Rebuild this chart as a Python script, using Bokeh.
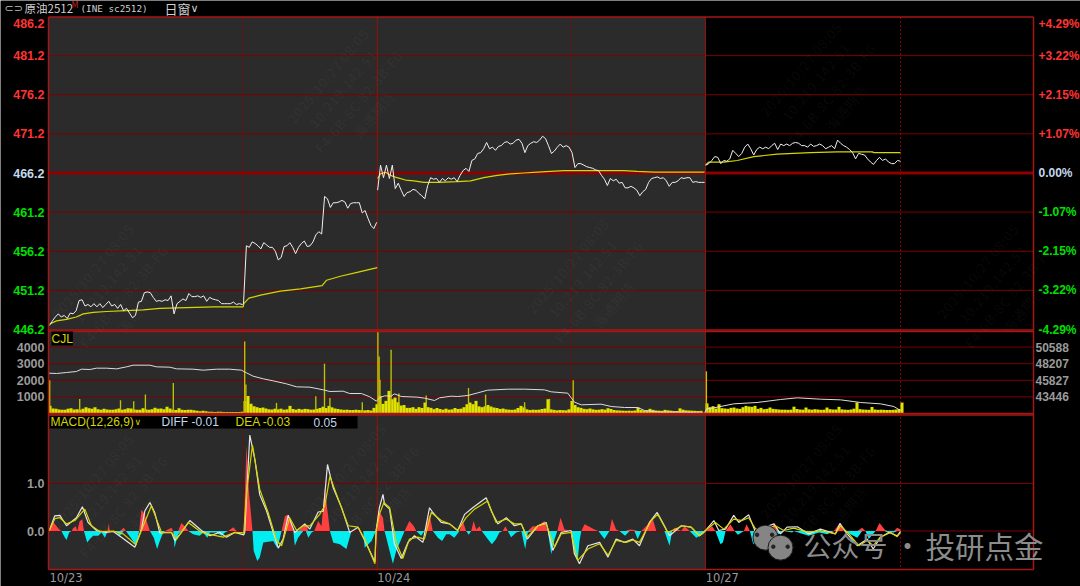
from bokeh.plotting import figure
from bokeh.models import Range1d, Label, BoxAnnotation
from bokeh.embed import file_html
from bokeh.resources import INLINE
import numpy as np

# ---------- price (one value per sample) ----------
price_a = [446.7,447.3,447.8,448.2,447.8,448,447.6,448.3,448.2,448.6,449.9,450,449.2,449.4,449.1,449.5,449.1,449.5,449,449.4,449.8,449.2,449.4,448.9,449.4,448.6,448.9,448.3,447.7,448,449.7,449.8,450.9,451,450.9,450.3,449.8,449.9,449.8,450,449.9,450.5,448.2,449.5,449.8,450.1,449.9,450.8,450.4,450.4,450.5,450.3,450.5,449.8,450.3,450.1,450,449.9,449.5,449.5,449.5,449.5,449.7,449.4,449.5,449.4]
price_b = [449.5,456.9,456.7,457.4,457.2,456.9,456.5,457.3,457,456.7,456.7,456.2,455.1,455.4,456.8,456.9,457.3,456.7,455.9,456.7,457.2,457.5,456.8,456.9,457.4,458.3,458.7,458.4,463.2,462.9,461.8,462.4,462.4,462.5,462.7,462.5,461.7,462.3,462.4,462.4,462.4,461.1,461.4,460.4,459.5,459.1,459.9]
price_c = [464,467.2,465.6,467.2,465.5,467.2,464.2,464.9,464,463.2,463.7,463.8,464.1,464,463.6,463.3,462.9,464.6,465.6,465.4,465.5,465,465.5,465.2,465.6,465.4,465.6,465.1,465.9,466.5,466.8,466.4,467.8,468,468.7,468.8,469.3,470.1,469.3,469.5,469.1,469.6,469.7,470.1,470.2,469.9,470,470.4,470.5,470,468.8,469.7,470,470.2,470.1,470.4,470.9,470.6,469.7,468.7,469,469.5,469.9,469.5,469.7,469.5,468.8,466.9,467.4,467.4,467.2,467,466.9,466.8,466.6,466.5,465.9,465.4,464.6,465.5,465.2,465.4,464.9,465,464.3,464.3,464.5,464.3,464,463.3,463.8,464.1,465,465.5,465.6,465.7,465.5,465.6,465.2,464.5,465,465,465.2,465.6,465.5,465.6,465.6,465,465.1,465,465,465]
price_d = [467.2,467.4,467.8,468.3,468.2,467.4,467.8,467.7,468,469.1,468.7,468.3,468.7,469.5,469.9,469.3,468.5,469.2,469.5,469.3,469.5,469.3,469.7,470,469.2,469.9,469.7,469.9,469.7,470,470.1,470,469.7,469.7,469.5,469.9,469.6,469.7,469.9,469.7,469.3,469.5,469.7,469.3,470.4,470,469.7,469.5,469.2,468.8,468,468.7,468.6,468.5,468,467.6,467.3,467.8,468.2,467.8,468,467.6,467.4,467.4,467.8,467.7]

# ---------- average price ----------
avg_a_t = [0.4,2.7,6,9.3,11.6,14.9,19.3,26,31.6,37.1,46,54.9,64.9,65.1,66.8,70.7,77.3,84,91.2,92.7,97.3,102.9,109.6]
avg_a_v = [446.9,447.3,447.5,447.8,448.2,448.4,448.5,448.6,448.7,448.9,449,449.1,449.1,449.5,450.2,450.6,451.1,451.4,451.8,452.5,453,453.5,454.1]
avg_c_t = [109.7,110.7,112.3,114,116.2,119,121.8,125.1,129.6,136.2,140.7,145.1,149.6,154,158.4,162.9,167.3,171.8,182.9,191.8,196.2,201.8,218.7]
avg_c_v = [465.5,466.1,466.3,465.9,465.6,465.3,465.2,465,465,465.1,465.2,465.6,465.9,466.1,466.2,466.3,466.4,466.5,466.5,466.5,466.4,466.3,466.3]
avg_d_t = [219,220.1,225.1,229.6,235.1,242.9,248.4,254,262.9,274.6,275.1,284]
avg_d_v = [467.2,467.6,467.6,467.8,468.3,468.6,468.7,468.8,468.9,468.9,468.8,468.8]

# ---------- volume ----------
vol_1 = [460,300,280,240,220,230,280,320,240,260,230,280,380,320,280,380,260,230,280,240,220,230,260,300,230,260,320,300,240,220,230,310,240,230,250,340,280,300,260,410,300,230,210,310,230,210,230,230,200,170,140,160,130,100,110,90,110,100,90,90,90,90,90,90,100,
         760,1060,580,440,380,330,360,300,250,240,290,250,290,230,250,460,270,230,280,240,280,260,230,240,280,330,410,330,460,370,300,270,240,220,230,210,210,230,210,200,190,210,180,340,560]
vol_2 = [1060,580,760,1360,860,960,680,480,510,340,340,380,280,380,330,660,380,340,260,330,270,230,290,230,250,330,270,290,380,560,660,560,760,430,380,430,510,420,360,330,270,300,250,230,220,240,330,460,370,250,210,230,220,230,270,300,860,250,220,190,210,200,190,250,760,510,380,340,280,260,300,250,220,230,260,230,320,270,210,190,180,170,160,170,160,180,360,210,180,190,280,220,180,170,160,220,190,170,150,150,310,230,190,180,170,160,150,160]
vol_3 = [610,380,440,300,560,320,300,280,340,360,300,280,380,460,420,400,460,280,340,260,280,360,280,260,240,230,230,220,230,410,270,240,230,360,250,230,260,240,220,230,360,260,240,240,400,250,230,220,240,290,660,260,240,230,220,390,240,220,230,220,210,210,220,240,270,660]
spike_t = [0.4,10.4,24,28.4,32.3,41.6,65.4,65.8,76,89.1,92,93.8,104.6,109.8,110.2,110.5,114.2,116.8,125.9,140,145.7,158.7,167,174.9,219.3]
spike_v = [2000,880,800,740,1140,1840,4340,1740,640,1040,3000,940,680,4950,3440,2040,3840,1200,1080,1540,1140,680,880,2000,2540]

# ---------- open interest ----------
oi_t = [0.2,2.7,6,9.3,11,13.8,16,19.3,22.7,26,28.2,33.8,36,40.4,42.7,48.2,51.6,56,60.4,64.3,66,68.2,71.6,74.9,79.3,82.7,87.1,91.6,93.8,98.2,100.4,104.3,107.1,109.3,110.4,112.1,114.2,115.3,117.6,123.1,125.3,128.7,130.3,134.2,136.4,139.8,143.1,146.4,153.1,158.7,165.3,167.6,173.1,175.3,177.6,184.2,187.6,192,196.4,198.7,203.1,212,218.7,219.3,221.8,228.4,236.2,244,249.6,257.3,264,270.7,277.3,281.8,284]
oi_v = [46849,46801,46944,47088,47422,47374,47566,47566,47470,47757,47996,47996,47757,47709,47470,47422,47279,47422,47422,47279,46896,46418,46036,45749,45319,44889,44841,44459,44220,44267,43933,43933,43455,42833,43359,43598,43550,43885,43503,43407,43264,42929,43311,43550,43503,43646,44028,44411,44554,44554,44459,44172,43981,42690,42308,42403,42069,41925,41925,41495,41256,41256,41100,41734,41877,42451,42642,43072,43311,43120,43025,42642,42451,42068,41495]

# ---------- MACD ----------
diff_t = [0.2,2.1,3.8,6,9.3,11.3,13.2,16,19.3,21.6,24.3,28.8,31,32.1,33.8,35.4,37.1,41,42.1,44.3,47.1,51,53.8,57.1,59.3,62.1,65.1,65.4,67.1,68.8,70.4,72.7,74.9,76.6,78.2,79.9,82.1,85.4,87.1,89.9,91.6,93,94.9,97.7,100.4,103.2,105.4,108.8,
          109.2,110.3,111.5,112,113.7,115.3,117.6,119.8,122,124.8,127,128.1,130.9,133.7,136.4,138.7,141.4,145.9,147.6,149.8,152.6,155.3,157.6,159.6,163.1,165.9,168.1,170.9,174.2,175.3,177,179.8,183.7,186.5,189.2,192,194.8,197,200.3,202.9,205.3,207,210.9,214.2,217,
          219,221.8,223.4,225.7,228.4,230.1,233.4,235.7,237.3,241.8,244,246.2,249.6,253.4,257.3,262.3,263.8,266.2,269.6,272.9,274.9,277.3,280.1,282.9,284]
diff_v = [0,.32,.33,.11,.28,.51,.18,.01,-.03,-.01,-.13,-.34,.04,.42,.6,.39,-.04,-.03,-.2,-.03,.22,.01,-.1,-.03,-.13,-.03,-.08,-.03,2.02,1.5,.77,.42,-.03,-.36,-.17,.33,-.03,.15,.04,.4,.42,1.4,.91,.49,-.03,.08,-.2,-.65,
          .01,.49,.77,.56,.46,-.27,-.58,-.24,-.1,-.24,.49,.39,.18,.15,.01,.35,.49,.7,.42,.15,.28,.11,.15,-.17,.11,.18,-.41,-.03,.01,-.48,-.69,-.31,-.24,-.55,-.17,-.24,-.17,-.31,.18,.39,.11,-.1,.11,.08,-.1,
          .01,.22,.01,.04,.33,.18,.34,-.03,.04,.15,-.06,.08,.09,-.06,.04,-.06,.16,-.06,-.31,-.17,-.38,-.13,-.03,-.1,-.01]
dea_t = [0.2,2.1,3.8,6,8.8,12.1,14.3,17.1,21.6,24.9,29.1,31.6,34.3,36,37.7,41,42.7,46.6,51,53.8,58.2,62.1,65.1,66,68,70.4,73.2,76,77.7,80.4,82.7,84.9,87.1,90.4,92.1,93.8,96.6,99.9,103.2,105.4,108.8,
         109.2,110.3,111.8,113.7,115.9,118.1,120.3,123.1,125.3,127.6,130.9,133.7,136.4,139.2,142,146.4,149.2,152.6,155.3,157.6,159.6,163.1,165.9,168.7,170.9,174.2,176.4,179.8,183.7,186.5,189.2,192.6,194.8,197,200.9,203.1,206.4,211.4,214.2,217,
         219,222.3,225.1,228.4,231.2,233.4,235.7,238.4,242.3,245.1,248.4,253.4,257.3,262.3,264,266.8,270.1,272.9,274.9,277.3,280.7,282.9,284]
dea_v = [0,.26,.28,.15,.22,.46,.11,-.01,0,-.06,-.29,.11,.53,.25,-.03,-.03,-.17,.18,-.03,-.07,-.13,-.03,-.04,.81,1.81,.88,.39,-.2,-.31,.28,.01,.11,.11,.35,.53,1.15,.67,.11,.08,-.17,-.69,
         .01,.35,.6,.49,-.24,-.58,-.17,-.13,-.17,.39,.22,.15,.01,.28,.46,.63,.18,.25,.15,.15,-.13,.11,.15,-.34,-.06,-.03,-.62,-.38,-.27,-.51,-.2,-.24,-.19,-.24,.22,.35,-.03,.11,.08,-.1,
         .01,.18,.04,.25,.22,.28,.04,.04,.11,.01,.06,-.03,.01,-.06,.11,-.06,-.31,-.2,-.31,-.13,-.03,-.12,-.03]
hist_t = [0.2,1.6,3.6,4.3,5.4,6,6.9,7.7,8.2,9.1,9.6,10.4,11.3,11.8,12.9,13.8,14.9,16.6,17.7,18.8,19.7,20.1,20.4,22.1,23.8,25.1,25.8,27.7,29.3,30.2,31,32.1,32.7,33.8,35.1,36.2,37.1,38,38.8,41,41.6,42,43.2,44.3,45.4,46.6,48.2,50.4,51.6,52.9,53.8,56,57.7,58.8,59.9,61.6,62.7,65.1,65.6,66,66.8,67.4,68,68.4,69.6,70.4,71.6,74.9,76.2,76.9,77.7,78.8,79.9,81,81.6,82.1,83.2,84.9,85.8,86.6,87.7,88.6,89.9,91,92.1,93.8,94.9,97.1,99.3,101,104.9,105.4,107.7,109.1,
          109.2,110,111.5,112,112.6,113.7,114.8,115.9,117.6,118.7,120.3,121.8,122.6,124.2,125.3,127,128.1,129.8,131.2,132.6,133.7,135.3,137,138.1,139.2,140.1,140.9,141.7,142.6,143.7,144.4,146.4,147.8,149.2,150.3,151.4,152.3,153.1,154.2,155.9,157.6,158.9,159.8,161.4,163.1,165.3,166.4,167.6,168.7,169.6,170.7,172,174.2,175.3,176.4,177,177.6,178.7,182,183.3,185.3,187,187.8,189.2,190.3,192.2,193.7,195.3,196.4,197.6,199.2,201.4,202.6,205.3,207,207.9,208.7,210.9,212,213.7,215.9,218.1,219.2,
          221.2,222.3,224,224.8,225.7,227.3,228.7,229.8,231.8,232.7,233.8,234.9,235.8,236.8,240.7,242,243.4,245.1,247.9,248.4,251.2,253.4,256.8,259.6,261.8,263.8,265.1,267.3,269.6,271.2,272.3,273.4,275.7,277,278.7,279.6,281.8,282.9,284]
hist_v = [0,.19,.03,0,-.13,-.19,-.03,0,.06,.1,0,.21,.24,0,-.24,-.17,-.1,-.1,-.03,-.14,0,.17,0,0,-.1,.07,0,-.17,-.31,0,.45,.35,.21,0,-.14,-.38,-.21,-.07,0,.07,0,-.35,-.07,.17,.1,0,-.07,-.1,-.03,-.14,-.03,-.03,-.1,-.03,0,.08,0,0,1.04,1.81,.83,.42,0,-.42,-.63,-.56,-.24,-.21,-.35,-.21,0,.31,.35,.17,0,-.31,-.14,.1,.14,-.14,-.03,0,.21,.1,.9,0,-.24,-.28,-.38,0,0,-.35,-.21,0,
          0,.45,.28,0,-.14,-.42,-.69,-.42,-.17,0,.21,.1,0,-.1,0,.35,0,-.14,-.21,-.07,-.07,-.14,0,.21,0,-.08,0,.21,.03,.1,0,-.17,-.28,-.17,-.03,0,.1,0,-.13,-.03,0,-.38,-.03,.1,.1,.21,0,-.49,-.17,0,.28,.03,0,-.45,-.63,-.21,0,.14,.03,0,-.17,0,.26,.03,0,-.1,.03,.02,-.17,0,.1,.26,0,0,-.31,0,.07,0,.1,0,-.14,-.07,0,
          .1,0,-.28,-.24,0,.14,0,-.08,0,.14,0,-.28,-.21,0,0,.17,-.07,0,-.03,0,-.06,-.1,-.03,-.07,0,.17,0,-.07,-.14,.07,0,-.17,0,.17,.03,-.03,-.03,.07,.03]

# ---------- ticks and labels ----------
price_ticks = [486.2,481.2,476.2,471.2,466.2,461.2,456.2,451.2,446.2]
pct_labels = ["+4.29%","+3.22%","+2.15%","+1.07%","0.00%","-1.07%","-2.15%","-3.22%","-4.29%"]
vol_ticks = [1000,2000,3000,4000]
oi_ticks = [43446,45827,48207,50588]
macd_ticks = [0.0,1.0]
date_labels = ["10/23","10/24","10/27"]
session_starts = [0.3,109.6,219.1]
session_lines = [109.6,219]
midday_lines = [65,174,284]
watermark_lines = ["2025/10/27 08:05","10.219.142.51","F4-6B-8C-82-3B-F6","海通期货"]

GREY = "#2b2b2b"; GRID = "#7d0000"; BORDER = "#a81616"
RED = "#ff3333"; GREEN = "#00e000"; PALE = "#c4d8ee"; AXIS = "#9a9a9a"; YEL = "#d6d600"
X0, X1 = 0, 328.33

# the one frame fills the page; each panel has its own linear scale on it
def to_price(py): return 446.2 + (329 - py) / 7.825
def to_vol(py): return (413 - py) / 16.6 * 1000
def to_oi(py): return 41065 + to_vol(py) * 2.381
def to_macd(py): return (530.5 - py) / 47.5
def to_x(px): return (px - 48) / 3

p = figure(width=1080, height=586, output_backend="svg", toolbar_location=None,
           x_range=Range1d(to_x(0), to_x(1080)), y_range=Range1d(to_price(586), to_price(0)),
           x_axis_type=None, y_axis_type=None, min_border=0, outline_line_color=None,
           background_fill_color="#000000", border_fill_color="#000000")
p.extra_y_ranges = {"vol": Range1d(to_vol(586), to_vol(0)), "oi": Range1d(to_oi(586), to_oi(0)),
                    "macd": Range1d(to_macd(586), to_macd(0))}
top_p, bot_p = to_price(16.5), to_price(569)

p.add_layout(BoxAnnotation(left=X0, right=session_lines[1], top=top_p, bottom=bot_p,
                           fill_color=GREY, fill_alpha=1, line_alpha=0, level="image"))

def txt(x, y, s, color, size="12px", font="Liberation Sans", style="normal", align="left", rng="default", **kw):
    p.add_layout(Label(x=x, y=y, y_range_name=rng, text=s, text_color=color, text_font=font, text_font_size=size,
                       text_font_style=style, text_align=align, text_baseline="middle", **kw))

def hlines(ys, rng="default", w=1, c=GRID):
    p.segment(x0=[X0] * len(ys), x1=[X1] * len(ys), y0=ys, y1=ys, y_range_name=rng, line_color=c, line_width=w)

# watermark
for cx, cy in [(350, 95), (823, 88), (590, 285), (115, 290), (1000, 290), (367, 490), (823, 490), (115, 500)]:
    for k, s in enumerate(watermark_lines):
        off = (k - 1.5) * 20
        p.add_layout(Label(x=to_x(cx + off * 0.766), y=to_price(cy + off * 0.643), text=s, text_color="#ffffff",
                           text_alpha=0.03, text_font="Noto Sans CJK SC", text_font_size="14px", text_font_style="bold",
                           angle=50, angle_units="deg", text_align="center", text_baseline="middle"))

# grid
hlines([y for y in price_ticks[1:-1] if y != 466.2])
hlines([466.2], w=3, c="#8f0000")
hlines(vol_ticks, "vol")
hlines(macd_ticks, "macd")
p.segment(x0=session_lines, x1=session_lines, y0=[top_p] * 2, y1=[bot_p] * 2, line_color="#961010", line_width=1)
p.segment(x0=midday_lines, x1=midday_lines, y0=[top_p] * 3, y1=[bot_p] * 3, line_color="#8a0000", line_width=1, line_dash="2 2")

# price panel
p.line(avg_a_t, avg_a_v, line_color=YEL, line_width=1.2)
p.line(avg_c_t, avg_c_v, line_color=YEL, line_width=1.2)
p.line(avg_d_t, avg_d_v, line_color=YEL, line_width=1.2)
xa = np.linspace(0.3, 64.6, len(price_a))
xb = np.linspace(65, 109.4, len(price_b))
xc = np.linspace(109.7, 218.7, len(price_c))
xd = np.linspace(219.1, 284, len(price_d))
p.line(np.concatenate([xa, xb]), price_a + price_b, line_color="#f0f0f0", line_width=1)
p.line(xc, price_c, line_color="#f0f0f0", line_width=1)
p.line(xd, price_d, line_color="#f0f0f0", line_width=1)

# volume panel
p.vbar(x=np.arange(len(vol_1)) + 0.5, top=vol_1, width=1.02, y_range_name="vol", color="#e2e200", line_width=0)
p.vbar(x=np.arange(len(vol_2)) + 110.5, top=vol_2, width=1.02, y_range_name="vol", color="#e2e200", line_width=0)
p.vbar(x=np.arange(len(vol_3)) + 219.5, top=vol_3, width=1.02, y_range_name="vol", color="#e2e200", line_width=0)
p.vbar(x=spike_t, top=spike_v, width=0.45, y_range_name="vol", color="#c2c200", line_width=0)
p.line(oi_t, oi_v, y_range_name="oi", line_color="#dcdcdc", line_width=1)

# MACD panel
hv = np.array(hist_v)
p.varea(x=hist_t, y1=np.zeros(len(hv)), y2=np.clip(hv, 0, None), y_range_name="macd", fill_color="#ff4040")
p.varea(x=hist_t, y1=np.zeros(len(hv)), y2=np.clip(hv, None, 0), y_range_name="macd", fill_color="#00eef0")
p.line(diff_t, diff_v, y_range_name="macd", line_color="#e6e6e6", line_width=1.2)
p.line(dea_t, dea_v, y_range_name="macd", line_color=YEL, line_width=1.2)

# panel borders
hlines([to_price(16.5), to_price(329.5), to_price(331), to_price(413), to_price(414.5), to_price(569)], w=1.5, c=BORDER)
p.segment(x0=[X0, X1], x1=[X0, X1], y0=[top_p] * 2, y1=[bot_p] * 2, line_color=BORDER, line_width=1.5)

# tick labels
for y, pct in zip(price_ticks, pct_labels):
    c = RED if y > 466.2 else (PALE if y == 466.2 else GREEN)
    ly = to_price(23) if y == price_ticks[0] else y
    txt(to_x(44), ly, f"{y:.1f}", c, "12.5px", style="bold", align="right")
    txt(to_x(1038), ly, pct, c, "12px", style="bold")
for i, y in enumerate(vol_ticks):
    txt(to_x(44), y, str(y), AXIS, "12.5px", style="bold", align="right", rng="vol")
    txt(to_x(1035), oi_ticks[i], str(oi_ticks[i]), AXIS, "12px", style="bold", rng="oi")
for y in macd_ticks:
    txt(to_x(44), y, f"{y:.1f}", AXIS, "12.5px", style="bold", align="right", rng="macd")
for x, s in zip(session_starts, date_labels):
    txt(x, to_macd(577), s, AXIS, "11.5px", font="DejaVu Sans", rng="macd")

# header
ty = to_price(7.5)
txt(to_x(4), ty, "⊂⊃", "#bdbdbd", "11px", font="DejaVu Sans")
txt(to_x(24), ty, "原油2512", "#cfcfcf", "11.5px", font="Noto Sans CJK SC")
txt(to_x(71), to_price(4.5), "M", "#c02020", "8px", font="DejaVu Sans")
txt(to_x(80), ty, "(INE sc2512)", "#cfcfcf", "9.3px", font="DejaVu Sans Mono")
txt(to_x(164), ty, "日窗", "#cfcfcf", "13px", font="Noto Sans CJK SC")
txt(to_x(190), ty, "∨", "#cfcfcf", "11px", font="DejaVu Sans")

# panel captions
txt(to_x(51), to_vol(338), "CJL", YEL, "12px", rng="vol", background_fill_color="#000000")
p.add_layout(BoxAnnotation(left=to_x(49), right=to_x(357), top=to_macd(415.5), bottom=to_macd(428), y_range_name="macd",
                           fill_color="#000000", fill_alpha=1, line_alpha=0))
hy = to_macd(421.5)
txt(to_x(50), hy, "MACD(12,26,9)", YEL, "12px", rng="macd")
txt(to_x(134), hy, "∨", YEL, "9px", font="DejaVu Sans", rng="macd")
txt(to_x(161), hy, "DIFF -0.01", PALE, "12px", rng="macd")
txt(to_x(235), hy, "DEA -0.03", YEL, "12px", rng="macd")
txt(to_x(313), hy, "0.05", PALE, "12px", rng="macd")

# account badge over the chart
badge_x = [239, 244]; badge_y = [-0.14, -0.35]; badge_s = [25, 25]
p.scatter(badge_x, badge_y, size=badge_s, y_range_name="macd", color="#858585", line_color="#1a1a1a", line_width=1)
p.scatter([236.2, 241.2, 241.6, 246.4], [-0.08, -0.08, -0.33, -0.33], size=3.5, y_range_name="macd", color="#222222")
by = to_macd(544)
txt(to_x(803), by, "公众号", "#8c8c8c", "28px", font="Noto Sans CJK SC", rng="macd")
txt(to_x(893), by, "·", "#8c8c8c", "28px", font="Noto Sans CJK SC", rng="macd")
txt(to_x(925), by, "投研点金", "#8c8c8c", "29.5px", font="Noto Sans CJK SC", rng="macd")

open("out.html", "w").write(file_html(p, INLINE))
